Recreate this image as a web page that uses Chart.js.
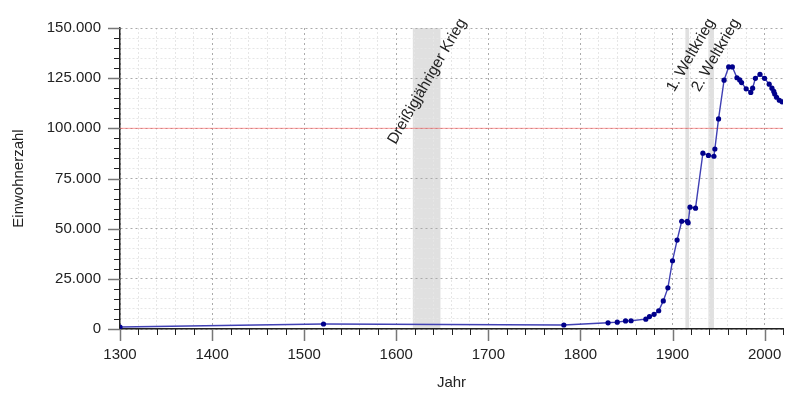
<!DOCTYPE html>
<html>
<head>
<meta charset="utf-8">
<script src="https://cdn.jsdelivr.net/npm/chart.js@4.4.0/dist/chart.umd.min.js"></script>
<style>
  html, body { margin: 0; padding: 0; background: #fff; }
  #wrap { width: 800px; height: 400px; }
</style>
</head>
<body>
<div id="wrap"><canvas id="c" width="800" height="400"></canvas></div>
<script>
// Einwohnerentwicklung
const jahre = [1300, 1521, 1782, 1830, 1840, 1849, 1855, 1871, 1875, 1880, 1885, 1890, 1895,
  1900, 1905, 1910, 1916, 1917, 1919, 1925, 1933, 1939, 1945, 1946, 1950, 1956, 1961, 1965,
  1970, 1973, 1975, 1980, 1985, 1987, 1990, 1995, 2000, 2005, 2008, 2010, 2011, 2013, 2016, 2019];
const einwohner = [1000, 2500, 2000, 3100, 3400, 4000, 4100, 4900, 6200, 7300, 9100, 14000, 20500,
  34000, 44300, 53700, 53700, 52900, 60700, 60200, 87600, 86500, 86100, 89700, 104700, 124000, 130600, 130600,
  125200, 124100, 122800, 119700, 117900, 120000, 124900, 126900, 124900, 122000, 120000, 118400, 117100, 115500, 114000, 113200];

// Großstadtgrenze
const grenzeJahre = [1300, 2020];
const grenzeWert = [100000, 100000];

// Kriege
const kriegNamen = ['Dreißigjähriger Krieg', '1. Weltkrieg', '2. Weltkrieg'];
const kriegVon = [1618, 1914, 1939];
const kriegBis = [1648, 1918, 1945];

// Achsen
const xMajor = [1300, 1400, 1500, 1600, 1700, 1800, 1900, 2000];
const xLabels = ['1300', '1400', '1500', '1600', '1700', '1800', '1900', '2000'];
const yMajor = [0, 25000, 50000, 75000, 100000, 125000, 150000];
const yLabels = ['0', '25.000', '50.000', '75.000', '100.000', '125.000', '150.000'];

const FONT = { family: 'Liberation Sans, Arial, sans-serif', size: 15 };
const TXT = '#222';

const isMajX = v => xMajor.includes(v);
const isMajY = v => yMajor.includes(v);

const extras = {
  id: 'extras',
  beforeDraw(chart) {
    const { ctx, chartArea: a, scales: { x } } = chart;
    ctx.save();
    ctx.fillStyle = '#e0e0e0';
    kriegVon.forEach((von, i) => {
      const x1 = x.getPixelForValue(von), x2 = x.getPixelForValue(kriegBis[i]);
      ctx.fillRect(x1, a.top, x2 - x1, a.bottom - a.top);
    });
    ctx.restore();
  },
  afterDraw(chart) {
    const { ctx, chartArea: a, scales: { x, y } } = chart;
    ctx.save();
    // Teilstriche
    x.ticks.forEach(t => {
      const px = Math.round(x.getPixelForValue(t.value)) + 0.5;
      const maj = isMajX(t.value);
      ctx.strokeStyle = maj ? '#777' : '#222';
      ctx.lineWidth = maj ? 1.5 : 1;
      ctx.beginPath(); ctx.moveTo(px, a.bottom); ctx.lineTo(px, a.bottom + (maj ? 12 : 6)); ctx.stroke();
    });
    y.ticks.forEach(t => {
      const py = Math.round(y.getPixelForValue(t.value)) + 0.5;
      const maj = isMajY(t.value);
      ctx.strokeStyle = maj ? '#777' : '#222';
      ctx.lineWidth = maj ? 1.5 : 1;
      ctx.beginPath(); ctx.moveTo(a.left, py); ctx.lineTo(a.left - (maj ? 12 : 6), py); ctx.stroke();
    });
    // Beschriftung der Kriege
    ctx.fillStyle = TXT;
    ctx.font = '15.5px ' + FONT.family;
    ctx.textAlign = 'right';
    ctx.textBaseline = 'alphabetic';
    kriegNamen.forEach((name, i) => {
      ctx.save();
      ctx.translate(x.getPixelForValue(kriegBis[i]) + 26, a.top - 6);
      ctx.rotate(-Math.PI / 3);
      ctx.fillText(name, 0, 0);
      ctx.restore();
    });
    ctx.restore();
  }
};

new Chart(document.getElementById('c'), {
  type: 'scatter',
  data: {
    datasets: [
      {
        data: jahre.map((j, i) => ({ x: j, y: einwohner[i] })),
        showLine: true,
        borderColor: '#4040b4',
        borderWidth: 1.4,
        pointRadius: 2.6,
        pointBackgroundColor: '#00008b',
        pointBorderWidth: 0,
        order: 1
      },
      {
        data: grenzeJahre.map((j, i) => ({ x: j, y: grenzeWert[i] })),
        showLine: true,
        borderColor: 'rgba(255,80,80,0.55)',
        borderWidth: 1,
        pointRadius: 0,
        order: 2
      }
    ]
  },
  options: {
    responsive: false,
    animation: false,
    devicePixelRatio: 1,
    layout: { padding: { top: 22, right: 16, left: 0, bottom: 0 } },
    plugins: { legend: { display: false }, tooltip: { enabled: false } },
    scales: {
      x: {
        type: 'linear', min: 1300, max: 2020,
        afterFit: s => { s.height = 71; },
        ticks: {
          stepSize: 20, autoSkip: false, maxRotation: 0, padding: 17,
          font: FONT, color: TXT,
          callback: v => { const k = xMajor.indexOf(v); return k >= 0 ? xLabels[k] : ''; }
        },
        grid: {
          drawTicks: false, lineWidth: 1,
          color: c => c.tick && c.tick.value === 2020 ? 'rgba(0,0,0,0)' : (c.tick && isMajX(c.tick.value) ? '#aaa' : '#e6e6e6')
        },
        border: { display: true, color: '#222', width: 1.5, dash: c => c.tick ? (isMajX(c.tick.value) ? [2, 3] : [2, 2]) : [] },
        title: { display: true, text: 'Jahr', font: FONT, color: TXT, padding: { top: 0, bottom: 8 } }
      },
      y: {
        min: 0, max: 150000,
        afterFit: s => { s.width = 120; },
        ticks: {
          stepSize: 5000, autoSkip: false, padding: 19,
          font: FONT, color: TXT,
          callback: v => { const k = yMajor.indexOf(v); return k >= 0 ? yLabels[k] : ''; }
        },
        grid: {
          drawTicks: false, lineWidth: 1,
          color: c => c.tick && isMajY(c.tick.value) ? '#aaa' : '#e6e6e6'
        },
        border: { display: true, color: '#222', width: 1.5, dash: c => c.tick ? (isMajY(c.tick.value) ? [2, 3] : [2, 2]) : [] },
        title: { display: true, text: 'Einwohnerzahl', font: FONT, color: TXT, padding: { top: 10, bottom: 0 } }
      }
    }
  },
  plugins: [extras]
});
</script>
</body>
</html>
